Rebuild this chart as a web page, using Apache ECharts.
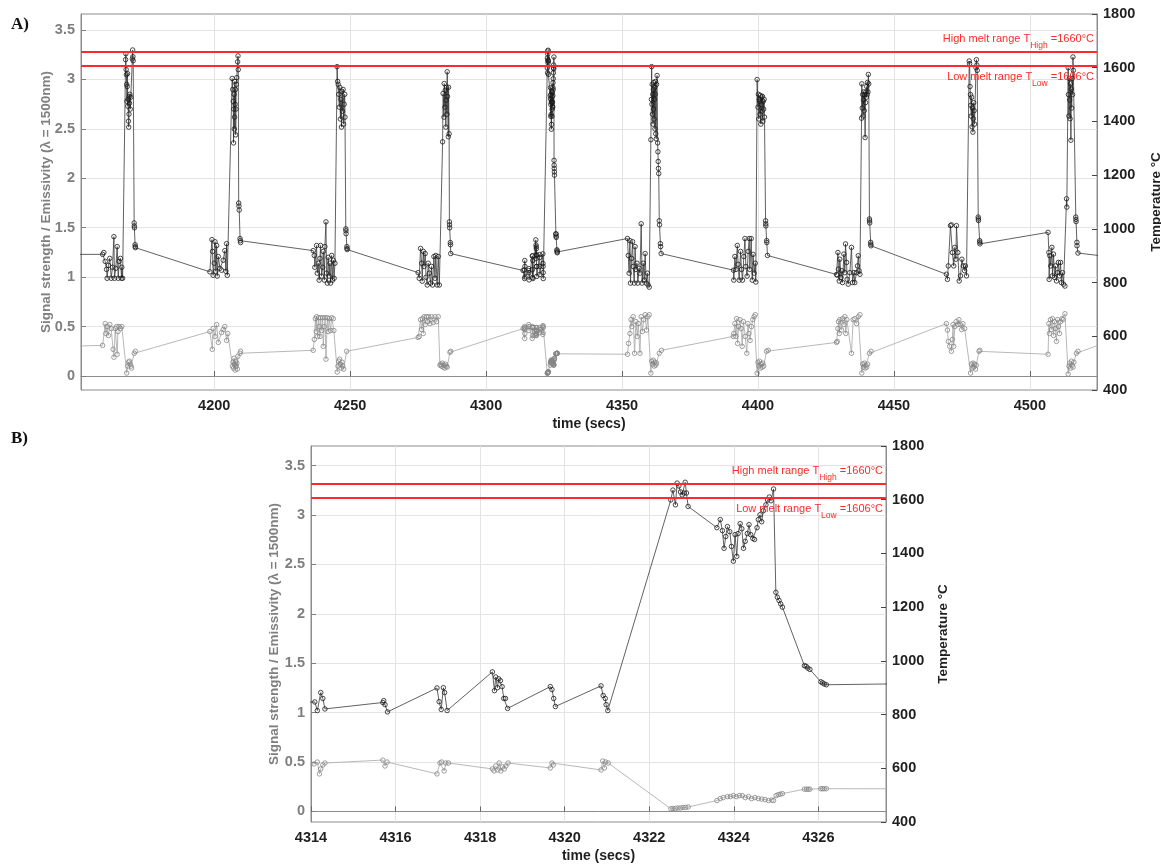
<!DOCTYPE html>
<html><head><meta charset="utf-8">
<script src="https://cdn.jsdelivr.net/npm/echarts@6/dist/echarts.min.js"></script>
<style>html,body{margin:0;padding:0;background:#fff}#c{width:1161px;height:864px}</style>
</head><body><div id="c"></div>
<script>
// ---------------- data ----------------
const xTicksA = [4200, 4250, 4300, 4350, 4400, 4450, 4500];
const xTicksB = [4314, 4316, 4318, 4320, 4322, 4324, 4326];
const signalTicks = [0, 0.5, 1, 1.5, 2, 2.5, 3, 3.5];
const meltHigh = 1660;
const meltLow = 1606;

// Temperature (°C) vs time (s), panel A cycles (cycle around 4322 s is in tempB)
const tempA = [
 [4145,905],[4158.95,905],[4159.4,912],[4159.9,879],[4160.4,849],[4160.6,816],[4161.1,864],[4161.6,890],[4162.1,816],[4162.6,857],[4163.1,971],[4163.3,816],[4163.8,853],[4164.3,934],[4164.7,816],[4165.0,879],[4165.5,890],[4165.9,816],[4166.0,857],[4166.3,816],
 [4167.4,1630],[4167.5,1652],[4167.6,1593],[4167.7,1574],[4167.8,1538],[4167.9,1475],[4168.0,1530],[4168.1,1578],[4168.2,1457],[4168.3,1482],[4168.45,1401],[4168.55,1379],[4168.65,1427],[4168.75,1493],[4168.85,1468],[4168.95,1501],[4169.1,1446],[4169.3,1490],[4169.9,1633],[4170.0,1666],[4170.1,1641],[4170.2,1626],
 [4170.55,1022],[4170.6,1011],[4170.65,1004],[4170.9,941],[4170.95,934],[4171.0,930],
 [4198.4,840],[4199.15,960],[4199.4,916],[4199.6,827],[4200.0,872],[4200.3,952],[4200.6,842],[4200.9,938],[4201.1,824],[4201.5,897],[4202.1,853],[4202.7,846],[4203.3,883],[4203.9,919],[4204.3,842],[4204.55,945],[4204.8,827],
 [4206.6,1560],[4206.8,1519],[4207.0,1475],[4207.1,1320],[4207.2,1446],[4207.3,1501],[4207.4,1372],[4207.5,1416],[4207.6,1549],[4207.7,1464],[4207.8,1519],[4207.9,1350],[4208.0,1446],[4208.1,1538],[4208.3,1563],[4208.6,1622],[4208.75,1644],[4208.85,1593],
 [4209.0,1096],[4209.1,1085],[4209.2,1070],[4209.5,964],[4209.6,956],[4209.7,949],
 [4236.4,919],[4236.8,901],[4237.0,857],[4237.65,938],[4237.9,835],[4238.3,872],[4238.6,809],[4238.9,890],[4239.1,938],[4239.5,824],[4239.9,857],[4240.1,916],[4240.5,809],[4240.7,934],[4241.1,1026],[4241.3,835],[4241.6,798],[4241.9,894],[4242.3,824],[4242.55,872],[4242.8,798],[4243.2,901],[4243.5,809],[4243.8,883],[4244.1,816],[4244.4,872],
 [4245.2,1604],[4245.4,1549],[4245.6,1538],[4245.8,1501],[4246.0,1453],[4246.2,1527],[4246.4,1409],[4246.6,1482],[4246.8,1379],[4247.0,1512],[4247.2,1438],[4247.4,1519],[4247.6,1390],[4247.8,1464],[4248.0,1501],[4248.1,1416],
 [4248.4,1000],[4248.45,993],[4248.5,982],[4248.8,934],[4248.85,927],[4248.9,923],
 [4275.0,837],[4275.4,816],[4275.9,927],[4276.3,872],[4276.5,805],[4276.9,916],[4277.2,860],[4277.6,908],[4277.9,820],[4278.35,791],[4278.7,872],[4279.1,835],[4279.6,798],[4279.9,860],[4280.3,791],[4280.8,897],[4281.2,816],[4281.5,901],[4282.0,791],[4282.4,897],[4282.8,791],
 [4284.0,1324],[4284.2,1504],[4284.5,1416],[4284.6,1541],[4284.85,1453],[4284.97,1516],[4285.2,1379],[4285.3,1479],[4285.5,1527],[4285.6,1427],[4285.7,1585],[4285.8,1493],[4286.1,1343],[4286.2,1527],[4286.4,1354],
 [4286.5,1026],[4286.55,1015],[4286.6,1004],[4286.85,949],[4286.9,941],[4287.0,908],
 [4352.0,964],[4352.3,901],[4352.6,835],[4352.9,956],[4353.1,798],[4353.5,890],[4353.9,952],[4354.1,860],[4354.5,798],[4354.8,934],[4355.1,849],[4355.5,872],[4355.8,798],[4356.3,853],[4356.6,835],[4357.05,1019],[4357.4,798],[4357.8,872],[4358.15,809],[4358.5,908],[4358.9,798],[4359.3,835],[4359.6,791],[4360.0,783],
 [4360.6,1332],[4360.8,1482],[4360.9,1604],[4361.0,1464],[4361.1,1538],[4361.2,1427],[4361.3,1501],[4361.4,1390],[4361.5,1519],[4361.6,1446],[4361.7,1545],[4361.8,1409],[4361.9,1482],[4362.0,1527],[4362.1,1372],[4362.2,1501],[4362.3,1549],[4362.4,1354],[4362.6,1335],[4362.7,1538],[4362.9,1571],
 [4363.1,1320],[4363.2,1287],[4363.3,1251],[4363.4,1225],[4363.5,1206],[4363.7,1030],[4363.8,1015],[4364.1,945],[4364.2,934],[4364.4,908],
 [4391.0,846],[4391.1,809],[4391.5,897],[4391.9,849],[4392.4,938],[4392.7,868],[4393.1,809],[4393.6,916],[4393.95,849],[4394.3,809],[4394.8,897],[4395.2,964],[4395.55,860],[4396.0,824],[4396.4,916],[4396.8,964],[4397.0,849],[4397.5,964],[4397.9,809],[4398.2,905],[4398.6,835],[4399.0,872],[4399.2,802],
 [4399.7,1556],[4400.0,1453],[4400.15,1501],[4400.3,1409],[4400.45,1482],[4400.6,1475],[4400.75,1427],[4400.9,1497],[4401.05,1390],[4401.2,1464],[4401.35,1490],[4401.5,1438],[4401.65,1493],[4401.8,1401],[4401.95,1475],[4402.1,1446],[4402.25,1482],[4402.4,1416],
 [4402.8,1030],[4402.85,1019],[4402.9,1011],[4403.2,956],[4403.25,949],[4403.5,901],
 [4428.9,830],[4429.15,828],[4429.4,912],[4429.6,850],[4429.9,806],[4430.1,887],[4430.5,819],[4430.85,844],[4431.1,800],[4431.6,906],[4431.95,837],[4432.2,944],[4432.6,875],[4432.8,812],[4433.2,794],[4433.8,837],[4434.4,931],[4434.8,800],[4435.3,837],[4435.6,800],[4436.25,837],[4436.6,862],[4436.9,900],[4437.2,844],[4437.5,831],
 [4438.1,1412],[4438.2,1540],[4438.35,1450],[4438.5,1500],[4438.65,1420],[4438.8,1480],[4438.95,1510],[4439.1,1440],[4439.25,1500],[4439.4,1340],[4439.55,1470],[4439.7,1510],[4439.85,1490],[4440.0,1530],[4440.15,1500],[4440.3,1545],[4440.45,1510],[4440.6,1575],[4440.75,1540],
 [4441.0,1037],[4441.05,1030],[4441.1,1022],[4441.45,950],[4441.5,943],[4441.55,937],
 [4469.3,831],[4469.7,812],[4470.0,862],[4470.8,1012],[4471.15,1015],[4471.5,912],[4472.0,862],[4472.4,931],[4472.8,887],[4473.0,1012],[4473.5,912],[4474.0,806],[4474.5,825],[4475.0,887],[4475.5,862],[4476.0,844],[4476.3,862],[4476.7,825],
 [4477.7,1625],[4477.85,1615],[4478.0,1530],[4478.15,1500],[4478.3,1460],[4478.45,1420],[4478.6,1490],[4478.75,1380],[4478.9,1450],[4479.05,1360],[4479.2,1410],[4479.35,1470],[4479.5,1440],[4479.65,1390],[4480.2,1600],[4480.35,1630],[4480.5,1610],[4480.65,1590],
 [4481.0,1044],[4481.05,1037],[4481.1,1031],[4481.55,956],[4481.6,950],[4481.65,944],
 [4506.7,987],[4507.0,912],[4507.1,812],[4507.35,900],[4507.7,862],[4508.1,931],[4508.3,825],[4508.7,906],[4509.1,819],[4509.4,862],[4509.8,806],[4510.2,837],[4510.5,875],[4510.9,825],[4511.3,875],[4511.6,800],[4512.0,837],[4512.4,794],[4512.9,787],
 [4513.5,1112],[4513.6,1081],[4514.1,1600],[4514.2,1500],[4514.35,1420],[4514.5,1560],[4514.65,1480],[4514.8,1410],[4514.95,1540],[4515.1,1330],[4515.25,1520],[4515.4,1450],[4515.55,1560],[4515.7,1500],[4515.85,1640],[4516.0,1590],
 [4516.9,1044],[4516.95,1035],[4517.0,1027],[4517.3,950],[4517.35,937],[4517.7,910],[4530,895]
];

// Signal strength / emissivity vs time (s), panel A cycles
const signalA = [
 [4145,0.30],[4158.95,0.31],[4159.9,0.53],[4160.15,0.43],[4160.6,0.50],[4161.1,0.41],[4161.6,0.52],[4162.1,0.48],[4162.8,0.27],[4163.1,0.19],[4163.6,0.48],[4164.1,0.50],[4164.3,0.22],[4164.6,0.45],[4165.0,0.50],[4165.5,0.48],[4166.0,0.50],
 [4167.8,0.03],[4168.2,0.10],[4168.5,0.14],[4168.8,0.15],[4169.1,0.12],[4169.4,0.10],[4169.6,0.08],[4170.6,0.23],[4171.0,0.25],
 [4198.4,0.45],[4199.3,0.27],[4199.6,0.48],[4200.3,0.40],[4200.9,0.52],[4201.5,0.34],[4202.7,0.44],[4203.3,0.47],[4203.9,0.50],[4204.55,0.36],[4205.0,0.43],
 [4206.7,0.10],[4206.9,0.14],[4207.1,0.08],[4207.3,0.18],[4207.5,0.12],[4207.7,0.06],[4207.9,0.15],[4208.1,0.10],[4208.3,0.13],[4208.5,0.07],[4208.7,0.20],[4209.5,0.23],[4209.7,0.25],
 [4236.4,0.26],[4236.8,0.37],[4237.2,0.58],[4237.5,0.45],[4237.65,0.60],[4238.0,0.40],[4238.4,0.59],[4238.6,0.50],[4238.9,0.40],[4239.1,0.59],[4239.5,0.46],[4239.9,0.59],[4240.1,0.30],[4240.5,0.50],[4240.8,0.59],[4241.1,0.17],[4241.6,0.59],[4241.9,0.45],[4242.3,0.58],[4242.8,0.46],[4243.2,0.59],[4243.8,0.58],[4244.0,0.46],
 [4245.25,0.04],[4245.5,0.10],[4245.8,0.15],[4246.1,0.17],[4246.4,0.12],[4246.7,0.08],[4247.0,0.14],[4247.3,0.10],[4247.6,0.07],[4248.7,0.25],
 [4275.0,0.39],[4275.4,0.40],[4275.9,0.57],[4276.3,0.47],[4276.6,0.58],[4276.9,0.43],[4277.2,0.60],[4277.6,0.52],[4278.1,0.60],[4278.5,0.55],[4278.85,0.60],[4279.35,0.53],[4279.9,0.60],[4280.55,0.54],[4281.2,0.60],[4281.8,0.55],[4282.4,0.60],
 [4283.0,0.11],[4283.3,0.12],[4283.6,0.10],[4283.9,0.13],[4284.2,0.09],[4284.5,0.11],[4284.8,0.08],[4285.1,0.12],[4285.4,0.10],[4285.7,0.09],[4286.7,0.24],[4287.0,0.25],
 [4352.0,0.22],[4352.4,0.33],[4352.9,0.43],[4353.3,0.57],[4353.6,0.50],[4354.1,0.60],[4354.6,0.23],[4355.1,0.55],[4355.6,0.40],[4355.95,0.53],[4356.6,0.23],[4357.05,0.60],[4357.5,0.45],[4358.0,0.57],[4358.5,0.62],[4359.0,0.465],[4359.5,0.60],[4360.0,0.62],
 [4360.6,0.03],[4360.9,0.15],[4361.2,0.12],[4361.5,0.16],[4361.8,0.10],[4362.1,0.14],[4362.4,0.11],[4362.7,0.13],[4363.7,0.23],[4364.5,0.26],
 [4390.9,0.40],[4391.1,0.43],[4391.5,0.53],[4391.9,0.40],[4392.15,0.58],[4392.5,0.33],[4392.9,0.50],[4393.4,0.57],[4393.8,0.48],[4394.2,0.30],[4394.65,0.55],[4395.3,0.40],[4395.9,0.23],[4396.3,0.53],[4396.65,0.43],[4397.1,0.36],[4397.6,0.50],[4398.1,0.57],[4398.6,0.60],[4399.0,0.62],
 [4399.7,0.03],[4400.0,0.14],[4400.3,0.10],[4400.6,0.15],[4400.9,0.08],[4401.2,0.12],[4401.5,0.09],[4401.8,0.13],[4402.1,0.10],[4403.15,0.25],[4403.75,0.26],
 [4428.9,0.34],[4429.15,0.35],[4429.4,0.48],[4429.6,0.55],[4429.9,0.43],[4430.1,0.57],[4430.75,0.465],[4431.1,0.58],[4431.6,0.52],[4431.95,0.60],[4432.3,0.43],[4432.7,0.57],[4434.4,0.23],[4435.0,0.57],[4435.6,0.58],[4436.25,0.53],[4436.9,0.60],[4437.5,0.62],
 [4438.2,0.03],[4438.5,0.12],[4438.8,0.09],[4439.1,0.13],[4439.4,0.08],[4439.7,0.11],[4440.0,0.09],[4440.3,0.12],[4441.0,0.23],[4441.6,0.25],
 [4469.3,0.53],[4469.7,0.465],[4470.0,0.35],[4470.5,0.30],[4471.15,0.25],[4471.5,0.37],[4471.75,0.52],[4472.0,0.30],[4472.4,0.50],[4472.9,0.55],[4473.5,0.52],[4473.9,0.57],[4474.4,0.52],[4474.9,0.47],[4475.4,0.53],[4476.0,0.48],
 [4478.2,0.03],[4478.5,0.12],[4478.8,0.08],[4479.1,0.13],[4479.4,0.09],[4479.7,0.12],[4480.0,0.07],[4480.3,0.11],[4481.3,0.25],[4481.6,0.26],
 [4506.7,0.22],[4507.0,0.53],[4507.2,0.43],[4507.6,0.57],[4507.95,0.47],[4508.3,0.58],[4508.7,0.41],[4509.1,0.55],[4509.4,0.48],[4509.8,0.35],[4510.2,0.57],[4510.5,0.50],[4510.9,0.43],[4511.3,0.55],[4511.8,0.58],[4512.2,0.57],[4512.9,0.63],
 [4514.1,0.02],[4514.4,0.10],[4514.7,0.13],[4515.0,0.08],[4515.3,0.15],[4515.6,0.11],[4515.9,0.09],[4516.2,0.14],[4517.1,0.23],[4517.7,0.25],[4530,0.36]
];

// Detail cycle (panel B, also part of panel A)
const tempB = [
 [4313.6,845],[4314.09,847],[4314.15,815],[4314.23,882],[4314.28,860],[4314.33,821],
 [4315.70,845],[4315.72,852],[4315.75,837],[4315.81,810],
 [4316.98,899],[4317.03,848],[4317.08,819],[4317.13,900],[4317.16,882],[4317.22,815],
 [4318.29,959],[4318.34,889],[4318.37,940],[4318.41,900],[4318.44,933],[4318.48,926],[4318.52,904],[4318.56,860],[4318.60,860],[4318.65,823],
 [4319.66,904],[4319.70,893],[4319.74,860],[4319.78,830],
 [4320.86,907],[4320.91,871],[4320.96,860],[4320.98,837],[4321.02,815],
 [4322.51,1599],[4322.56,1636],[4322.62,1581],[4322.66,1662],[4322.70,1651],[4322.74,1629],[4322.78,1618],[4322.82,1625],[4322.85,1665],[4322.88,1625],[4322.92,1575],
 [4323.60,1496],[4323.68,1526],[4323.73,1485],[4323.77,1419],[4323.81,1463],[4323.85,1500],[4323.905,1481],[4323.945,1426],[4323.99,1371],[4324.03,1470],[4324.07,1389],[4324.10,1474],[4324.15,1511],[4324.19,1492],[4324.23,1419],[4324.27,1445],[4324.32,1474],[4324.36,1507],[4324.40,1470],[4324.45,1456],[4324.49,1452],[4324.55,1496],[4324.58,1526],[4324.62,1544],[4324.66,1518],[4324.70,1559],[4324.76,1581],[4324.80,1599],[4324.84,1610],[4324.88,1596],[4324.94,1640],
 [4324.995,1255],[4325.03,1237],[4325.07,1225],[4325.11,1212],[4325.15,1200],
 [4325.67,982],[4325.71,980],[4325.75,973],[4325.80,968],
 [4326.06,922],[4326.10,918],[4326.14,914],[4326.19,911]
];
const signalB = [
 [4313.6,0.48],[4314.07,0.48],[4314.15,0.50],[4314.20,0.38],[4314.23,0.43],[4314.28,0.47],[4314.33,0.49],
 [4315.70,0.52],[4315.75,0.46],[4315.80,0.50],
 [4316.98,0.38],[4317.05,0.49],[4317.09,0.50],[4317.15,0.41],[4317.19,0.49],[4317.25,0.49],
 [4318.29,0.43],[4318.33,0.41],[4318.37,0.46],[4318.41,0.42],[4318.45,0.49],[4318.49,0.41],[4318.53,0.45],[4318.57,0.43],[4318.61,0.46],[4318.66,0.49],
 [4319.66,0.44],[4319.70,0.49],[4319.73,0.47],
 [4320.86,0.42],[4320.90,0.51],[4320.94,0.44],[4320.97,0.50],[4321.03,0.49],
 [4322.51,0.027],[4322.56,0.03],[4322.62,0.03],[4322.68,0.035],[4322.74,0.035],[4322.80,0.04],[4322.86,0.04],[4322.92,0.045],
 [4323.60,0.11],[4323.68,0.13],[4323.75,0.14],[4323.85,0.15],[4323.92,0.15],[4323.99,0.16],[4324.06,0.15],[4324.13,0.16],[4324.20,0.16],[4324.27,0.14],[4324.35,0.15],[4324.42,0.13],[4324.50,0.14],[4324.58,0.13],[4324.66,0.125],[4324.74,0.12],[4324.82,0.11],[4324.90,0.115],[4324.94,0.11],
 [4325.00,0.16],[4325.05,0.17],[4325.10,0.175],[4325.15,0.18],
 [4325.67,0.225],[4325.72,0.225],[4325.76,0.225],[4325.80,0.225],
 [4326.06,0.23],[4326.10,0.23],[4326.14,0.23],[4326.19,0.23]
];

// ---------------- chart ----------------
const byTime = (a, b) => a[0] - b[0];
const tempAll = tempA.concat(tempB).sort(byTime);
const signalAll = signalA.concat(signalB).sort(byTime);

const FONT = '"Liberation Sans", Arial, Helvetica, sans-serif';
const GRAY = '#7f7f7f';
const DARK = '#1f1f1f';
const BOX = '#8c8c8c';
const GRIDC = '#e4e4e4';
const RED = '#ff2a2a';
const plain = v => String(v);

const chart = echarts.init(document.getElementById('c'), null, {renderer: 'canvas'});

function xAxis(gi, min, max, ticks) {
  return {
    type: 'value', gridIndex: gi, min: min, max: max,
    name: 'time (secs)', nameLocation: 'middle', nameGap: 27, nameMoveOverlap: false,
    nameTextStyle: {fontFamily: FONT, fontWeight: 'bold', fontSize: 14, color: DARK},
    axisLine: {show: true, lineStyle: {color: BOX, width: 1}},
    axisTick: {show: true, inside: true, length: 5, customValues: ticks, lineStyle: {color: '#666'}},
    axisLabel: {customValues: ticks, formatter: plain, fontFamily: FONT, fontWeight: 'bold', fontSize: 14.5, color: DARK, margin: 8},
    splitLine: {show: true, lineStyle: {color: GRIDC, width: 1}}
  };
}
function leftAxis(gi, min, max, gap) {
  return {
    type: 'value', gridIndex: gi, position: 'left', min: min, max: max,
    name: 'Signal strength / Emissivity (\u03bb = 1500nm)', nameLocation: 'middle', nameGap: gap, nameRotate: 90, nameMoveOverlap: false,
    nameTextStyle: {fontFamily: FONT, fontWeight: 'bold', fontSize: 13.5, color: GRAY},
    axisLine: {show: true, lineStyle: {color: BOX, width: 1}},
    axisTick: {show: true, inside: true, length: 5, customValues: signalTicks, lineStyle: {color: GRAY}},
    axisLabel: {customValues: signalTicks, formatter: plain, fontFamily: FONT, fontWeight: 'bold', fontSize: 14.5, color: GRAY, margin: 6},
    splitLine: {show: true, lineStyle: {color: GRIDC, width: 1}}
  };
}
function rightAxis(gi, gap) {
  return {
    type: 'value', gridIndex: gi, position: 'right', min: 400, max: 1800, interval: 200,
    name: 'Temperature \u00b0C', nameLocation: 'middle', nameGap: gap, nameRotate: 90, nameMoveOverlap: false,
    nameTextStyle: {fontFamily: FONT, fontWeight: 'bold', fontSize: 13.5, color: DARK, lineHeight: 12},
    axisLine: {show: true, lineStyle: {color: BOX, width: 1}},
    axisTick: {show: true, inside: true, length: 5, lineStyle: {color: '#444'}},
    axisLabel: {formatter: plain, fontFamily: FONT, fontWeight: 'bold', fontSize: 14.5, color: DARK, margin: 6},
    splitLine: {show: false}
  };
}
const rich = {
  a: {fontFamily: FONT, fontSize: 11, color: RED, lineHeight: 17, verticalAlign: 'top'},
  s: {fontFamily: FONT, fontSize: 8.5, color: RED, lineHeight: 17, verticalAlign: 'bottom'}
};
function meltLines(dx) {
  return {
    silent: true, symbol: ['none', 'none'], animation: false,
    lineStyle: {color: RED, width: 2, type: 'solid', opacity: 1},
    emphasis: {disabled: true},
    data: [
      {yAxis: meltHigh, label: {show: true, position: 'insideEndTop', distance: [dx, 1],
        formatter: '{a|High melt range T}{s|High}{a| =' + meltHigh + '\u00b0C}', rich: rich}},
      {yAxis: meltLow, label: {show: true, position: 'insideEndBottom', distance: [dx, 5],
        formatter: '{a|Low melt range T}{s|Low}{a| =' + meltLow + '\u00b0C}', rich: rich}}
    ]
  };
}
function tempSeries(xi, yi, dx) {
  return {
    type: 'line', xAxisIndex: xi, yAxisIndex: yi, data: tempAll,
    symbol: 'circle', symbolSize: 4.5, showAllSymbol: true, clip: true,
    lineStyle: {color: '#3a3a3a', width: 0.8},
    itemStyle: {color: 'rgba(0,0,0,0)', borderColor: '#1a1a1a', borderWidth: 0.8},
    emphasis: {disabled: true}, z: 3,
    markLine: meltLines(dx)
  };
}
function signalSeries(xi, yi) {
  return {
    type: 'line', xAxisIndex: xi, yAxisIndex: yi, data: signalAll,
    symbol: 'circle', symbolSize: 4.5, showAllSymbol: true, clip: true,
    lineStyle: {color: '#a6a6a6', width: 0.8},
    itemStyle: {color: 'rgba(0,0,0,0)', borderColor: '#858585', borderWidth: 0.8},
    emphasis: {disabled: true}, z: 2
  };
}

chart.setOption({
  animation: false,
  backgroundColor: '#ffffff',
  grid: [
    {left: 81, top: 14, width: 1016, height: 376, show: true, borderColor: BOX, borderWidth: 1, containLabel: false, outerBoundsMode: 'none'},
    {left: 311, top: 446, width: 575, height: 376, show: true, borderColor: BOX, borderWidth: 1, containLabel: false, outerBoundsMode: 'none'}
  ],
  xAxis: [xAxis(0, 4151, 4524.7, xTicksA), xAxis(1, 4314, 4327.6, xTicksB)],
  yAxis: [leftAxis(0, -0.1416, 3.662, 28), rightAxis(0, 53), leftAxis(1, -0.107, 3.699, 30), rightAxis(1, 51)],
  series: [
    signalSeries(0, 0), tempSeries(0, 1, 3),
    signalSeries(1, 2), tempSeries(1, 3, 3)
  ],
  graphic: [
    {type: 'text', left: 11, top: 16, style: {text: 'A)', font: 'bold 17px "Liberation Serif", "Times New Roman", serif', fill: '#111'}},
    {type: 'text', left: 11, top: 430, style: {text: 'B)', font: 'bold 17px "Liberation Serif", "Times New Roman", serif', fill: '#111'}}
  ]
});
</script>
</body></html>
